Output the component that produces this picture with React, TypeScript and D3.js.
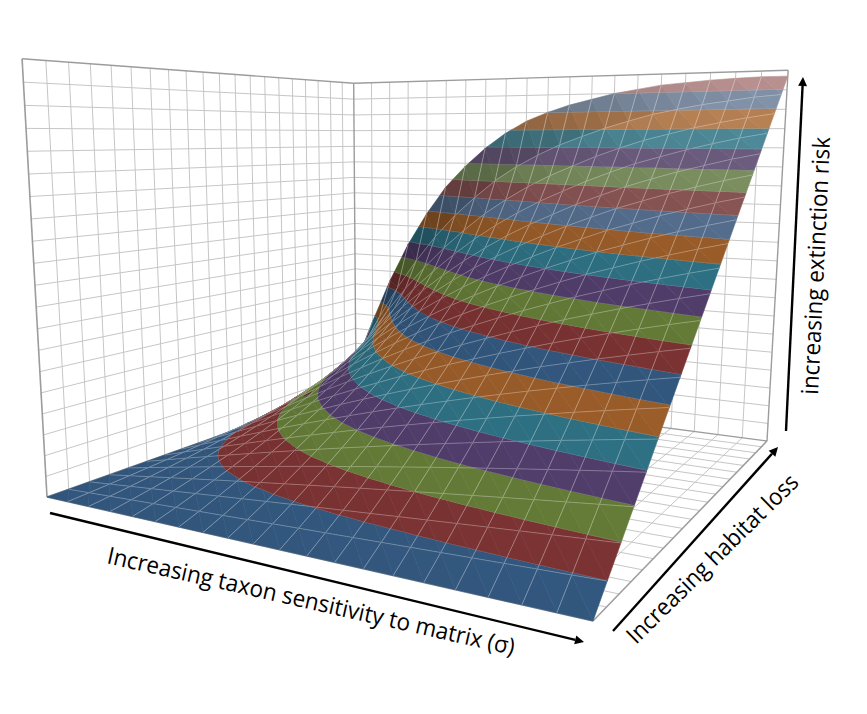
import React, { useMemo } from "react";
import * as d3 from "d3";

// Extinction risk; rows are habitat-loss steps, columns are sigma steps.
const sigmaSteps = d3.range(21);
const lossSteps = d3.range(21);
const row00 = [0,0,0,0,0,0,0,0,0,0,0,0,0,0,0,0,0,0,0,0,0];
const row01 = [0,.0025,.0051,.0076,.0101,.0126,.0151,.0176,.0201,.0226,.0251,.0275,.03,.0324,.0349,.0373,.0397,.0421,.0445,.0469,.0493];
const row02 = [0,.0052,.0104,.0156,.0208,.0259,.031,.0361,.0411,.0461,.0511,.056,.0608,.0657,.0705,.0753,.08,.0847,.0893,.094,.0985];
const row03 = [0,.0081,.0161,.0241,.032,.0398,.0476,.0553,.063,.0705,.078,.0854,.0926,.0999,.107,.114,.121,.1278,.1345,.1412,.1478];
const row04 = [0,.0112,.0222,.033,.0438,.0546,.0651,.0755,.0859,.096,.106,.1158,.1254,.135,.1443,.1536,.1625,.1714,.1801,.1887,.197];
const row05 = [0,.0145,.0286,.0426,.0564,.0701,.0835,.0967,.1098,.1226,.135,.1473,.1592,.171,.1825,.1939,.2048,.2156,.226,.2363,.2463];
const row06 = [0,.018,.0354,.0527,.0697,.0865,.1029,.119,.1348,.1503,.1653,.1799,.1941,.2081,.2216,.235,.2477,.2603,.2724,.2842,.2955];
const row07 = [0,.0218,.0428,.0635,.0838,.1038,.1233,.1424,.1611,.1792,.1967,.2136,.2301,.2462,.2617,.2769,.2913,.3055,.319,.3322,.3448];
const row08 = [0,.0259,.0506,.0749,.0988,.1222,.1449,.1671,.1886,.2094,.2294,.2486,.2672,.2853,.3027,.3197,.3356,.3512,.366,.3804,.394];
const row09 = [0,.0303,.0591,.0872,.1148,.1418,.1678,.1931,.2176,.2411,.2635,.285,.3056,.3257,.3448,.3634,.3807,.3976,.4135,.4289,.4433];
const row10 = [0,.0351,.0681,.1004,.1319,.1626,.192,.2205,.248,.2742,.299,.3227,.3452,.3671,.3878,.408,.4264,.4444,.4612,.4774,.4925];
const row11 = [0,.0403,.0779,.1146,.1502,.1848,.2178,.2495,.28,.3089,.3362,.3619,.3863,.4099,.432,.4535,.473,.492,.5095,.5263,.5418];
const row12 = [0,.0462,.0887,.1301,.1701,.2089,.2456,.2808,.3144,.3461,.3757,.4034,.4295,.4541,.4775,.5002,.5201,.5398,.5579,.5752,.5909];
const row13 = [0,.0527,.1007,.1471,.1918,.235,.2754,.314,.3508,.3851,.4167,.4463,.4739,.5002,.5247,.5485,.569,.5892,.6076,.6247,.6404];
const row14 = [0,.06,.1139,.1659,.2155,.2634,.3078,.3501,.3897,.4263,.4603,.4912,.5202,.5477,.5727,.5972,.618,.6387,.6567,.6742,.6893];
const row15 = [0,.0687,.1294,.1876,.2429,.2957,.3444,.39,.433,.4721,.5077,.5402,.5699,.5984,.624,.6486,.6695,.6897,.7075,.7243,.7389];
const row16 = [0,.0793,.1479,.2133,.2748,.3328,.3863,.4354,.4811,.5221,.5597,.5928,.6228,.652,.6773,.7016,.7223,.7416,.7583,.7747,.788];
const row17 = [0,.0934,.1722,.2459,.3147,.3789,.4371,.4898,.5383,.581,.6187,.6528,.6824,.7107,.7359,.7593,.7779,.7959,.8118,.826,.8376];
const row18 = [0,.1139,.2052,.2898,.3675,.4383,.5008,.557,.608,.6509,.6888,.7214,.749,.7761,.799,.82,.8365,.8526,.8657,.877,.8866];
const row19 = [0,.1491,.2595,.3591,.4471,.5256,.5927,.6498,.7016,.743,.7773,.8067,.8305,.8531,.8721,.8895,.902,.9135,.9219,.9306,.9358];
const row20 = [0,.23,.37,.49,.59,.675,.74,.795,.84,.875,.9,.92,.935,.95,.96,.97,.975,.98,.983,.985,.985];
const grid = [row00,row01,row02,row03,row04,row05,row06,row07,row08,row09,row10,row11,row12,row13,row14,row15,row16,row17,row18,row19,row20];

const darkBands = ["#33587f", "#7c3333", "#657c38", "#523e6c", "#2f7285", "#9c5e2a"];
const lightBands = ["#566f8f", "#8a5555", "#7c9060", "#6d5d80", "#4e8a99", "#b98255"];
const topBands = ["#8292a8", "#b89090"];
const bandColors = [...darkBands, ...darkBands, ...lightBands, ...topBands];

const W = 867, H = 714;
const A = [47, 497], B = [593, 621], C = [767, 441], D = [356, 387];
const den = (B[0]-C[0])*(D[1]-C[1]) - (D[0]-C[0])*(B[1]-C[1]);
const sx = A[0]-B[0]+C[0]-D[0], sy = A[1]-B[1]+C[1]-D[1];
const g0 = (sx*(D[1]-C[1]) - (D[0]-C[0])*sy)/den;
const h0 = ((B[0]-C[0])*sy - sx*(B[1]-C[1]))/den;
const a0 = B[0]-A[0]+g0*B[0], b0 = D[0]-A[0]+h0*D[0];
const d0 = B[1]-A[1]+g0*B[1], e0 = D[1]-A[1]+h0*D[1];
const rz = -0.0651, pz = 405*rz, qz = 6790*rz;
type P3 = [number, number, number];
const project = ([u, v, z]: P3): [number, number] => {
  const w = g0*u + h0*v + 1 + rz*z;
  return [(a0*u + b0*v + A[0] + pz*z)/w, (d0*u + e0*v + A[1] + qz*z)/w];
};
const sU = d3.scaleLinear().domain([0, 20]).range([0, 1]);
const sV = d3.scaleLinear().domain([0, 20]).range([0, 1]);
const line = d3.line();
const pathOf = (pts: P3[], close = false) => line(pts.map(project)) + (close ? "Z" : "");

function clip(poly: P3[], level: number, keepAbove: boolean): P3[] {
  const out: P3[] = [];
  for (let i = 0; i < poly.length; i++) {
    const a = poly[i], b = poly[(i+1)%poly.length];
    const ina = keepAbove ? a[2] >= level : a[2] <= level;
    const inb = keepAbove ? b[2] >= level : b[2] <= level;
    if (ina) out.push(a);
    if (ina !== inb) { const t = (level-a[2])/(b[2]-a[2]); out.push([a[0]+t*(b[0]-a[0]), a[1]+t*(b[1]-a[1]), level]); }
  }
  return out;
}
function shade(col: string, f: number) { const c = d3.rgb(col); return d3.rgb(c.r*f, c.g*f, c.b*f).formatHex(); }

function Surface() {
  const els = useMemo(() => {
    const out: React.ReactNode[] = [];
    for (let i = lossSteps.length - 2; i >= 0; i--) for (let j = 0; j < sigmaSteps.length - 1; j++) {
      const p = (jj: number, ii: number): P3 => [sU(jj), sV(ii), grid[ii][jj]];
      const a = p(j,i), b = p(j+1,i), c = p(j+1,i+1), e = p(j,i+1);
      const tris: P3[][] = [[a,b,e],[b,c,e]];
      tris.forEach((t, ti) => {
        const dzu = ti === 0 ? (b[2]-a[2])*20 : (c[2]-e[2])*20;
        const dzv = ti === 0 ? (e[2]-a[2])*20 : (c[2]-b[2])*20;
        const extra = Math.max(0, dzv - 1.05);
        const grad2 = dzu*dzu*.8 + extra*extra*.9;
        const f = (1 - .44*(1 - 1/Math.sqrt(1 + grad2)) - .02*Math.min(1, Math.abs(dzv-1))) * (ti === 0 ? .985 : 1);
        const lo = Math.min(...t.map(q=>q[2])), hi = Math.max(...t.map(q=>q[2]));
        for (let k = Math.floor(lo/.05 - 1e-9); k < 20 && k*.05 <= hi; k++) {
          if (k < 0) continue;
          const poly = clip(clip(t, k*.05, true), (k+1)*.05, false);
          if (poly.length < 3) continue;
          const col = shade(bandColors[k], f);
          out.push(<path key={`f${i}-${j}-${ti}-${k}`} d={pathOf(poly, true)} fill={col} stroke={col} strokeWidth={0.6} />);
          const edge = poly.filter(q => Math.abs(q[2]-(k+1)*.05) < 1e-9);
          if (edge.length >= 2) out.push(<path key={`c${i}-${j}-${ti}-${k}`} d={pathOf(edge.slice(0,2))} stroke="#fff" strokeOpacity={.42} strokeWidth={.8} fill="none" />);
        }
      });
      if (j > 0) out.push(<path key={`l${i}-${j}`} d={pathOf([a,e])} stroke="#fff" strokeOpacity={.4} strokeWidth={.85} fill="none" />);
      if (i < 19) out.push(<path key={`t${i}-${j}`} d={pathOf([e,c])} stroke="#fff" strokeOpacity={.32} strokeWidth={.85} fill="none" />);
    }
    return out;
  }, []);
  return <g>{els}</g>;
}

const GRID = "#c6c6c6", EDGE = "#9c9c9c";
function Walls() {
  const t = d3.range(1, 20).map((k) => k/20);
  const L = (a: P3, b: P3, s: string, w: number, key: string) => <path key={key} d={pathOf([a,b])} stroke={s} strokeWidth={w} fill="none" />;
  return <g>
    {t.map((k) => L([0,k,0],[0,k,1],GRID,1,"a"+k))}
    {t.map((k) => L([0,0,k],[0,1,k],GRID,1,"b"+k))}
    {t.map((k) => L([k,1,0],[k,1,1],GRID,1,"c"+k))}
    {t.map((k) => L([0,1,k],[1,1,k],GRID,1,"d"+k))}
    {t.map((k) => L([k,0,0],[k,1,0],GRID,1,"e"+k))}
    {t.map((k) => L([0,k,0],[1,k,0],GRID,1,"f"+k))}
    {L([0,0,0],[0,0,1],EDGE,1.6,"g1")}{L([0,1,0],[0,1,1],EDGE,1.4,"g2")}{L([1,1,0],[1,1,1],EDGE,1.4,"g3")}
    {L([0,0,1],[0,1,1],EDGE,1.4,"g4")}{L([0,1,1],[1,1,1],EDGE,1.4,"g5")}
    {L([0,0,0],[1,0,0],EDGE,1.5,"g6")}{L([1,0,0],[1,1,0],EDGE,1.5,"g7")}{L([0,1,0],[1,1,0],EDGE,1.4,"g8")}{L([0,0,0],[0,1,0],EDGE,1.4,"g9")}
  </g>;
}
const arrows = [[[50,513],[584,642]],[[613,631],[778,447]],[[786,431],[803,77]]];
function Arrow({ from, to }: { from: number[]; to: number[] }) {
  const ang = Math.atan2(to[1]-from[1], to[0]-from[0]);
  const h = d3.path();
  const s = 9, w = 4.5;
  const bx = to[0]-s*Math.cos(ang), by = to[1]-s*Math.sin(ang);
  h.moveTo(to[0], to[1]);
  h.lineTo(bx-w*Math.sin(ang), by+w*Math.cos(ang));
  h.lineTo(bx+w*Math.sin(ang), by-w*Math.cos(ang));
  h.closePath();
  return <g><line x1={from[0]} y1={from[1]} x2={bx} y2={by} stroke="#000" strokeWidth={2.4} /><path d={h.toString()} fill="#000" /></g>;
}
const FONT = "'Open Sans', sans-serif";
export default function App() {
  return <svg width={W} height={H} viewBox={`0 0 ${W} ${H}`} style={{ position: "absolute", left: 0, top: 0, background: "#fff" }}>
    <Walls />
    <Surface />
    {arrows.map((a, i) => <Arrow key={i} from={a[0]} to={a[1]} />)}
    <g fontFamily={FONT} fill="#000" fontSize={23.5}>
      <text transform="translate(106,563) rotate(12.76)" textLength={417} lengthAdjust="spacingAndGlyphs">Increasing taxon sensitivity to matrix (σ)</text>
      <text transform="translate(636,645) rotate(-44.5)" textLength={230} lengthAdjust="spacingAndGlyphs">Increasing habitat loss</text>
      <text transform="translate(818,395) rotate(-87.3)" textLength={258} lengthAdjust="spacingAndGlyphs">increasing extinction risk</text>
    </g>
  </svg>;
}
